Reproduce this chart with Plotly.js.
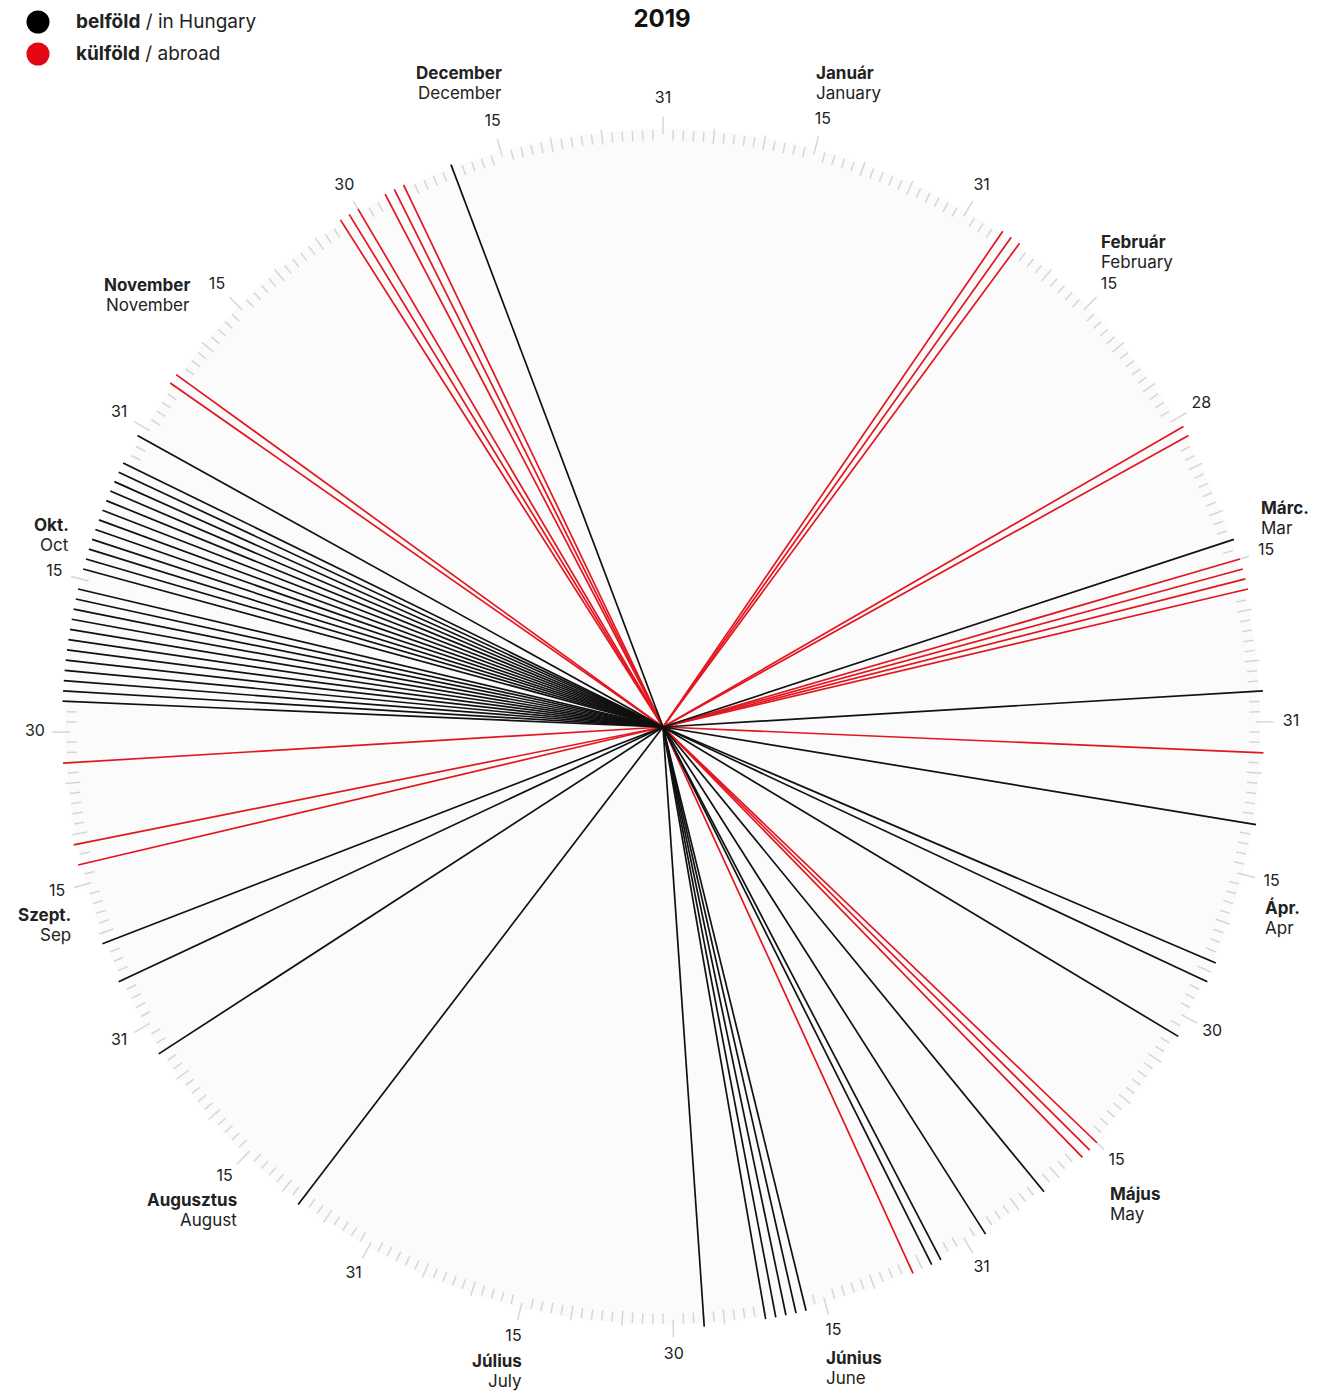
<!DOCTYPE html>
<html>
<head>
<meta charset="utf-8">
<script src="https://cdn.plot.ly/plotly-3.0.1.min.js"></script>
<style>html,body{margin:0;padding:0;background:#fff;}</style>
</head>
<body>
<div id="chart" style="width:1329px;height:1393px"></div>
<script>
// ---------------- data ----------------
const yearTitle = '2019';
const monthsHu = ['Január','Február','Márc.','Ápr.','Május','Június','Július','Augusztus','Szept.','Okt.','November','December'];
const monthsEn = ['January','February','Mar','Apr','May','June','July','August','Sep','Oct','November','December'];
// the wheel's calendar slots (the original wheel uses 366 slots, Feb end slot labelled "28")
const monthSlots = [31,29,31,30,31,30,31,31,30,31,30,31];
const monthEndLabels = ['31','28','31','30','31','30','31','31','30','31','30','31'];
const midMonthLabel = '15';
const midMonthDay = 15;
const mediumTickDays = [5,10,20,25];

const seriesNames = ['belföld', 'külföld'];
const seriesSub = ['in Hungary', 'abroad'];

// belföld / in Hungary (MM-DD)
const domesticDates = [
  '03-13','03-28','04-10','04-24','04-26','05-02','05-22','05-29',
  '06-03','06-04','06-17','06-18','06-19','06-20','06-21','06-27',
  '08-08','08-28','09-05','09-09',
  '10-03','10-04','10-05','10-06','10-07','10-08','10-09','10-10','10-11','10-12','10-13','10-14',
  '10-16','10-17','10-18','10-19','10-20','10-21','10-22','10-23','10-24','10-25','10-26','10-27',
  '10-30','12-10'
];
// külföld / abroad (MM-DD)
const abroadDates = [
  '02-04','02-05','02-06','03-01','03-02','03-15','03-16','03-17','03-18',
  '04-03','05-15','05-16','05-17','06-06',
  '09-17','09-19','09-27','11-05','11-06',
  '11-28','11-29','11-30','12-03','12-04','12-05'
];

// ---------------- geometry / style ----------------
const W = 1329, H = 1393;
const CX = 663, CY = 727;      // wheel centre in px
const RPX = 601;               // px radius of r = 1
const RMAX = 1.1;              // radial range max
const LBL_R = 1.045;
const FONT = 'Inter, "Open Sans", sans-serif';
const BLACK = '#111111', RED = '#e3161f', TICK = '#d6d6d6', TXT = '#222222';

const SLOTS = monthSlots.reduce((a, b) => a + b, 0);
const toTheta = i => i * 360 / SLOTS;
function slotIndex(md) {
  const [m, d] = md.split('-').map(Number);
  let s = 0;
  for (let i = 0; i < m - 1; i++) s += monthSlots[i];
  return s + d;
}
function spokes(dates) {
  const r = [], t = [];
  dates.forEach(md => { const th = toTheta(slotIndex(md)); r.push(0, 1, null); t.push(th, th, null); });
  return { r, t };
}

// ticks
const tk = { small: { r: [], t: [] }, mid: { r: [], t: [] }, long: { r: [], t: [] } };
const TR = { small: [0.976, 0.993], mid: [0.974, 0.999], long: [0.986, 1.016] };
const lblTheta = [], lblText = [];
const midAnchors = [];
let idx = 0;
monthSlots.forEach((len, m) => {
  for (let d = 1; d <= len; d++) {
    idx++;
    const th = toTheta(idx);
    let kind = 'small';
    if (d === midMonthDay || d === len) kind = 'long';
    else if (mediumTickDays.includes(d)) kind = 'mid';
    tk[kind].r.push(TR[kind][0], TR[kind][1], null);
    tk[kind].t.push(th, th, null);
    if (d === midMonthDay) { lblTheta.push(th); lblText.push(midMonthLabel); midAnchors.push(th); }
    if (d === len) { lblTheta.push(th); lblText.push(monthEndLabels[m]); }
  }
});

const dom = spokes(domesticDates), abr = spokes(abroadDates);

const traces = [
  { type: 'scatterpolar', mode: 'lines', r: tk.small.r, theta: tk.small.t, line: { color: TICK, width: 1.5 }, hoverinfo: 'skip', showlegend: false },
  { type: 'scatterpolar', mode: 'lines', r: tk.mid.r, theta: tk.mid.t, line: { color: TICK, width: 1.5 }, hoverinfo: 'skip', showlegend: false },
  { type: 'scatterpolar', mode: 'lines', r: tk.long.r, theta: tk.long.t, line: { color: TICK, width: 1.5 }, hoverinfo: 'skip', showlegend: false },
  { type: 'scatterpolar', mode: 'lines', name: seriesNames[1], r: abr.r, theta: abr.t, line: { color: RED, width: 1.7 }, hoverinfo: 'skip', showlegend: false },
  { type: 'scatterpolar', mode: 'lines', name: seriesNames[0], r: dom.r, theta: dom.t, line: { color: BLACK, width: 1.7 }, hoverinfo: 'skip', showlegend: false },
  { type: 'scatterpolar', mode: 'text', r: lblTheta.map(() => LBL_R), theta: lblTheta, text: lblText,
    textposition: 'middle center', textfont: { family: FONT, size: 16, color: TXT }, hoverinfo: 'skip', showlegend: false }
];

// month names placed relative to the "15" label of each month
// [dx px, dy px of bold line, anchor]
const monthNamePlacement = [
  [-9, -47, 'left'], [-10, -43, 'left'], [-7, -43, 'left'], [-9, 26, 'left'],
  [-9, 33, 'left'], [-9, 26, 'left'], [10, 24, 'right'], [14, 23, 'right'],
  [16, 23, 'right'], [17, -47, 'right'], [-25, 0, 'right'], [11, -49, 'right']
];
const px2x = x => x / W, px2y = y => 1 - y / H;
const annotations = [];
midAnchors.forEach((th, m) => {
  const rad = th * Math.PI / 180, R = LBL_R * RPX;
  const lx = CX + R * Math.sin(rad), ly = CY - R * Math.cos(rad);
  const [dx, dy, anc] = monthNamePlacement[m];
  const x = px2x(lx + dx);
  annotations.push({ xref: 'paper', yref: 'paper', x, y: px2y(ly + dy), xanchor: anc, yanchor: 'middle', showarrow: false,
    text: '<b>' + monthsHu[m] + '</b>', font: { family: FONT, size: 17, color: TXT } });
  annotations.push({ xref: 'paper', yref: 'paper', x, y: px2y(ly + dy + 20), xanchor: anc, yanchor: 'middle', showarrow: false,
    text: monthsEn[m], font: { family: FONT, size: 17, color: TXT } });
});
// legend text
[[22, 0], [54, 1]].forEach(([y, i]) => {
  annotations.push({ xref: 'paper', yref: 'paper', x: px2x(74), y: px2y(y), xanchor: 'left', yanchor: 'middle', showarrow: false,
    text: '<b>' + seriesNames[i] + '</b> / ' + seriesSub[i], font: { family: FONT, size: 19, color: TXT } });
});

const shapes = [
  { type: 'circle', xref: 'paper', yref: 'paper', xsizemode: 'pixel', ysizemode: 'pixel', xanchor: px2x(CX), yanchor: px2y(CY),
    x0: -598, x1: 598, y0: -598, y1: 598, fillcolor: '#fbfbfb', line: { width: 0 }, layer: 'below' },
  { type: 'circle', xref: 'paper', yref: 'paper', xsizemode: 'pixel', ysizemode: 'pixel', xanchor: px2x(38), yanchor: px2y(22),
    x0: -11.5, x1: 11.5, y0: -11.5, y1: 11.5, fillcolor: '#000000', line: { width: 0 } },
  { type: 'circle', xref: 'paper', yref: 'paper', xsizemode: 'pixel', ysizemode: 'pixel', xanchor: px2x(38), yanchor: px2y(54),
    x0: -11.5, x1: 11.5, y0: -11.5, y1: 11.5, fillcolor: '#e30613', line: { width: 0 } }
];

const RP = RMAX * RPX;
const layout = {
  width: W, height: H,
  margin: { l: 0, r: 0, t: 0, b: 0 },
  paper_bgcolor: '#ffffff',
  showlegend: false,
  title: { text: '<b>' + yearTitle + '</b>', x: px2x(662), xanchor: 'center', y: px2y(19), yanchor: 'middle',
    font: { family: FONT, size: 24, color: '#111' } },
  polar: {
    domain: { x: [(CX - RP) / W, (CX + RP) / W], y: [1 - (CY + RP) / H, 1 - (CY - RP) / H] },
    bgcolor: 'rgba(0,0,0,0)',
    radialaxis: { visible: false, range: [0, RMAX] },
    angularaxis: { visible: false, rotation: 90, direction: 'clockwise', thetaunit: 'degrees' }
  },
  shapes, annotations
};

Plotly.newPlot('chart', traces, layout, { displayModeBar: false, staticPlot: true });
</script>
</body>
</html>
